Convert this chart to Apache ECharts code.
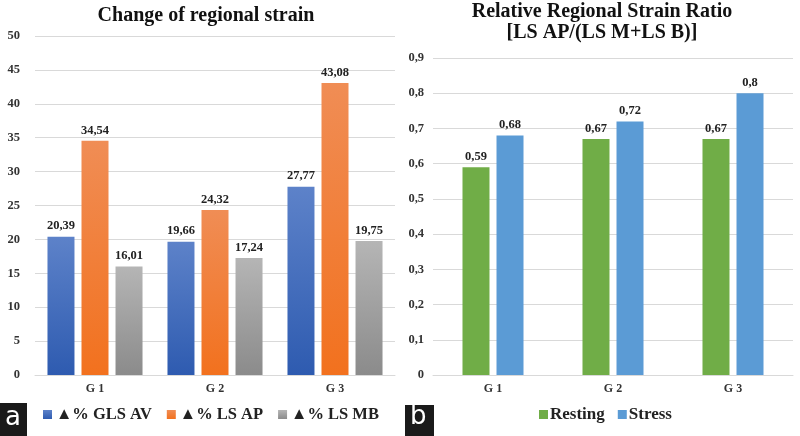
<!DOCTYPE html>
<html><head><meta charset="utf-8">
<script src="https://cdn.jsdelivr.net/npm/echarts@6/dist/echarts.min.js"></script>
<style>html,body{margin:0;padding:0;background:#fff}#c{width:800px;height:436px}</style>
</head><body><div id="c"></div>
<script>
const categories = ['G 1', 'G 2', 'G 3'];
const glsAv = [20.39, 19.66, 27.77];
const lsAp = [34.54, 24.32, 43.08];
const lsMb = [16.01, 17.24, 19.75];
const resting = [0.59, 0.67, 0.67];
const stress = [0.68, 0.72, 0.8];
const leftTicks = {min: 0, max: 50, interval: 5};
const rightTicks = {min: 0, max: 0.9, interval: 0.1};

const serif = '"Liberation Serif", "DejaVu Serif", serif';
const grad = (a, b) => ({type: 'linear', x: 0, y: 0, x2: 0, y2: 1, colorStops: [{offset: 0, color: a}, {offset: 1, color: b}]});
const comma = v => String(v).replace('.', ',');
const lbl = {show: true, position: 'top', distance: 4, fontFamily: serif, fontWeight: 'bold', fontSize: 12.5, color: '#222', formatter: p => comma(p.value)};
const axisLbl = {fontFamily: serif, fontWeight: 'bold', fontSize: 12.5, color: '#333'};

const chart = echarts.init(document.getElementById('c'), null, {renderer: 'canvas'});
chart.setOption({
  animation: false,
  title: [
    {text: 'Change of regional strain', left: 206, top: 6, textAlign: 'center', padding: 0,
     textStyle: {fontFamily: serif, fontWeight: 'bold', fontSize: 20, color: '#111'}},
    {text: 'Relative Regional Strain Ratio\n[LS AP/(LS M+LS B)]', left: 602, top: 1, textAlign: 'center', padding: 0,
     textStyle: {fontFamily: serif, fontWeight: 'bold', fontSize: 20, lineHeight: 21, color: '#111'}}
  ],
  grid: [
    {left: 35, right: 405, top: 36, bottom: 61},
    {left: 433, right: 7, top: 58, bottom: 61}
  ],
  legend: [
    {left: 43, top: 406, padding: 0, icon: 'rect', itemWidth: 9, itemHeight: 9, itemGap: 15,
     textStyle: {fontFamily: serif, fontWeight: 'bold', fontSize: 16.5, color: '#222', padding: [0, 0, 0, -1]},
     data: ['▲% GLS AV', '▲% LS AP', '▲% LS MB']},
    {left: 539, top: 406, padding: 0, icon: 'rect', itemWidth: 9, itemHeight: 9, itemGap: 13,
     textStyle: {fontFamily: serif, fontWeight: 'bold', fontSize: 17, color: '#222', padding: [0, 0, 0, -3]},
     data: ['Resting', 'Stress']}
  ],
  xAxis: [
    {type: 'category', gridIndex: 0, data: categories, axisTick: {show: false},
     axisLine: {lineStyle: {color: '#d9d9d9'}}, axisLabel: Object.assign({margin: 8}, axisLbl, {fontSize: 12})},
    {type: 'category', gridIndex: 1, data: categories, axisTick: {show: false},
     axisLine: {lineStyle: {color: '#d9d9d9'}}, axisLabel: Object.assign({margin: 8}, axisLbl, {fontSize: 12})}
  ],
  yAxis: [
    {type: 'value', gridIndex: 0, min: leftTicks.min, max: leftTicks.max, interval: leftTicks.interval,
     axisLine: {show: false}, axisTick: {show: false}, splitLine: {lineStyle: {color: '#d9d9d9'}},
     axisLabel: Object.assign({margin: 15}, axisLbl)},
    {type: 'value', gridIndex: 1, min: rightTicks.min, max: rightTicks.max, interval: rightTicks.interval,
     axisLine: {show: false}, axisTick: {show: false}, splitLine: {lineStyle: {color: '#d9d9d9'}},
     axisLabel: Object.assign({margin: 9, formatter: v => comma(+v.toFixed(1))}, axisLbl)}
  ],
  series: [
    {name: '▲% GLS AV', type: 'bar', xAxisIndex: 0, yAxisIndex: 0, data: glsAv, barWidth: 27, barGap: '26%',
     itemStyle: {color: grad('#5d82c9', '#2e5bb0')}, label: lbl},
    {name: '▲% LS AP', type: 'bar', xAxisIndex: 0, yAxisIndex: 0, data: lsAp, barWidth: 27, barGap: '26%',
     itemStyle: {color: grad('#f08d55', '#f2711e')}, label: lbl},
    {name: '▲% LS MB', type: 'bar', xAxisIndex: 0, yAxisIndex: 0, data: lsMb, barWidth: 27, barGap: '26%',
     itemStyle: {color: grad('#b5b5b5', '#8b8b8b')}, label: lbl},
    {name: 'Resting', type: 'bar', xAxisIndex: 1, yAxisIndex: 1, data: resting, barWidth: 27, barGap: '26%',
     itemStyle: {color: '#70ad47'}, label: lbl},
    {name: 'Stress', type: 'bar', xAxisIndex: 1, yAxisIndex: 1, data: stress, barWidth: 27, barGap: '26%',
     itemStyle: {color: '#5b9bd5'}, label: lbl}
  ],
  graphic: [
    {type: 'rect', left: 0, top: 403, shape: {width: 27, height: 33}, style: {fill: '#1a1a1a'}},
    {type: 'text', left: 5, top: 405, style: {text: 'a', fill: '#fff', font: '26px "DejaVu Sans", sans-serif'}},
    {type: 'rect', left: 405, top: 405, shape: {width: 29, height: 31}, style: {fill: '#1a1a1a'}},
    {type: 'text', left: 410, top: 404, style: {text: 'b', fill: '#fff', font: '26px "DejaVu Sans", sans-serif'}}
  ]
});
</script></body></html>
